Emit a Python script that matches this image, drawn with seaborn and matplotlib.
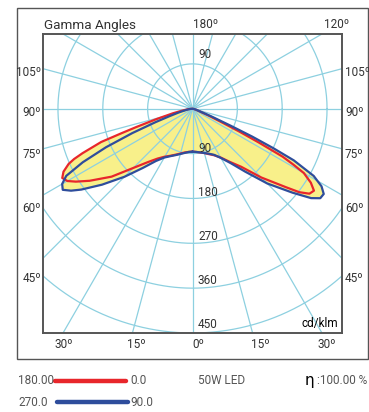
import numpy as np
import seaborn as sns
import matplotlib.pyplot as plt
from matplotlib.patches import Rectangle
from matplotlib import font_manager

# gamma angles (deg from nadir) and intensities in cd/klm
c0_gamma = [0, 5, 10, 15, 20, 25, 30, 35, 40, 45, 50, 52, 54, 56, 58, 60, 61, 62, 63, 64, 65, 67, 70, 75, 80, 90]
c0_val = [86, 87, 89, 92, 97, 103, 113, 130, 152, 195, 245, 272, 290, 294, 280, 258, 232, 205, 150, 105, 68, 35, 15, 7, 3, 0]

c180_gamma = [0, 5, 10, 15, 20, 25, 30, 35, 40, 45, 50, 55, 58, 60, 62, 64, 66, 67, 68, 70, 71, 72, 74, 77, 80, 85, 90]
c180_val = [86, 87, 89, 93, 98, 104, 111, 122, 140, 168, 212, 252, 276, 290, 296, 288, 272, 258, 238, 195, 150, 118, 75, 40, 20, 8, 0]

c90_gamma = [0, 5, 10, 15, 20, 25, 30, 35, 40, 45, 50, 53, 55, 57, 59, 61, 63, 64, 65, 66, 68, 70, 75, 80, 90]
c90_val = [86, 87, 89, 92, 96, 102, 114, 133, 165, 212, 262, 298, 313, 314, 302, 278, 228, 180, 132, 85, 40, 18, 7, 3, 0]

c270_gamma = [0, 5, 10, 15, 20, 25, 30, 35, 40, 45, 50, 54, 56, 58, 60, 62, 64, 66, 68, 70, 72, 75, 80, 85, 90]
c270_val = [86, 87, 90, 94, 99, 105, 113, 128, 155, 193, 237, 276, 294, 307, 302, 287, 245, 190, 130, 80, 50, 28, 12, 5, 0]

ring_values = [90, 180, 270, 360, 450, 540]
ring_labels = ["90", "180", "270", "360", "450"]
side_labels = ["105º", "90º", "75º", "60º", "45º"]
side_y = [72, 113, 155, 209, 278]
bottom_labels = ["30º", "15º", "0º", "15º", "30º"]
bottom_x = [64, 136, 198, 260, 327]

W, H = 369, 412

sns.set_style("white")
avail = {f.name for f in font_manager.fontManager.ttflist}
fam = [f for f in ["Liberation Sans Narrow", "Roboto", "DejaVu Sans"] if f in avail]
plt.rcParams["font.family"] = fam + ["DejaVu Sans"]
FS = 9 if fam[0] == "Liberation Sans Narrow" else 8.5

fig = plt.figure(figsize=(W / 100, H / 100), dpi=100)


def px(x, y):
    return x / W, 1 - y / H


ax = fig.add_axes([43 / W, 1 - 333 / H, 299 / W, 299 / H])
ax.set_xlim(-300, 300)
ax.set_ylim(-450, 150)
ax.set_xticks([])
ax.set_yticks([])
for s in ax.spines.values():
    s.set_color("#555555")
    s.set_linewidth(1.4)
    s.set_zorder(10)


def outline(right_g, right_v, left_g, left_v):
    rg = np.radians(right_g)
    lg = np.radians(left_g)[::-1]
    rv = np.array(right_v) / 1.0
    lv = np.array(left_v)[::-1]
    x = np.concatenate([rv * np.sin(rg), -lv * np.sin(lg)])
    y = np.concatenate([-rv * np.cos(rg), -lv * np.cos(lg)])
    return x, y


red_x, red_y = outline(c0_gamma, c0_val, c180_gamma, c180_val)
blue_x, blue_y = outline(c90_gamma, c90_val, c270_gamma, c270_val)

yellow = "#f8f08a"
ax.fill(red_x, red_y, color=yellow, lw=0, zorder=1)
ax.fill(blue_x, blue_y, color=yellow, lw=0, zorder=1)

grid = "#8dd0e0"
t = np.linspace(0, 2 * np.pi, 400)
for r in ring_values:
    ax.plot(r * np.cos(t), r * np.sin(t), color=grid, lw=0.9, zorder=2)
for a in range(0, 360, 15):
    ar = np.radians(a)
    ax.plot([0, 800 * np.sin(ar)], [0, -800 * np.cos(ar)], color=grid, lw=0.9, zorder=2)

sns.lineplot(x=red_x, y=red_y, sort=False, estimator=None, color="#e8262b", lw=1.6, ax=ax, zorder=4)
sns.lineplot(x=blue_x, y=blue_y, sort=False, estimator=None, color="#2e4d9c", lw=1.6, ax=ax, zorder=5)

txt = "#333333"
# ring labels
fig.text(*px(198, 55), "90", fontsize=FS, color=txt, va="center", ha="left")
for lab, yy in zip(ring_labels, [148, 193, 237, 281, 324]):
    fig.text(*px(198, yy), lab, fontsize=FS, color=txt, va="center", ha="left", zorder=6)
fig.text(*px(338, 324), "cd/klm", fontsize=FS, color="black", va="center", ha="right")

# header
fig.text(*px(44, 25), "Gamma Angles", fontsize=FS + 1.2, color=txt, va="center", ha="left")
fig.text(*px(193, 25), "180º", fontsize=FS, color=txt, va="center", ha="left")
fig.text(*px(349, 25), "120º", fontsize=FS, color=txt, va="center", ha="right")

for lab, yy in zip(side_labels, side_y):
    fig.text(*px(41, yy), lab, fontsize=FS, color=txt, va="center", ha="right")
    fig.text(*px(345, yy), lab, fontsize=FS, color=txt, va="center", ha="left")
for lab, xx in zip(bottom_labels, bottom_x):
    fig.text(*px(xx, 345), lab, fontsize=FS, color=txt, va="center", ha="center")

# outer frame
fig.add_artist(Rectangle(px(17, 359), 351 / W, 351 / H, transform=fig.transFigure,
                         fill=False, edgecolor="#555555", lw=1.0))

# legend
leg = fig.add_axes([0, 0, 1, 1], facecolor="none")
leg.set_xlim(0, W)
leg.set_ylim(H, 0)
leg.axis("off")
leg.plot([55, 126], [381, 381], color="#e8262b", lw=3.2, solid_capstyle="round")
leg.plot([57, 128], [402, 402], color="#2e4d9c", lw=3.2, solid_capstyle="round")
gray = "#555555"
fig.text(*px(18, 381), "180.00", fontsize=FS, color=gray, va="center", ha="left")
fig.text(*px(130, 381), "0.0", fontsize=FS, color=gray, va="center", ha="left")
fig.text(*px(18, 402), "270.0", fontsize=FS, color=gray, va="center", ha="left")
fig.text(*px(130, 402), "90.0", fontsize=FS, color=gray, va="center", ha="left")
fig.text(*px(198, 381), "50W LED", fontsize=FS, color=gray, va="center", ha="left")
fig.text(*px(305, 380), "η", fontsize=FS + 2.5, color="black", va="center", ha="left",
         family=["DejaVu Sans"])
fig.text(*px(317, 381), ":100.00 %", fontsize=FS, color=gray, va="center", ha="left")

fig.savefig("out.png", dpi=100)
